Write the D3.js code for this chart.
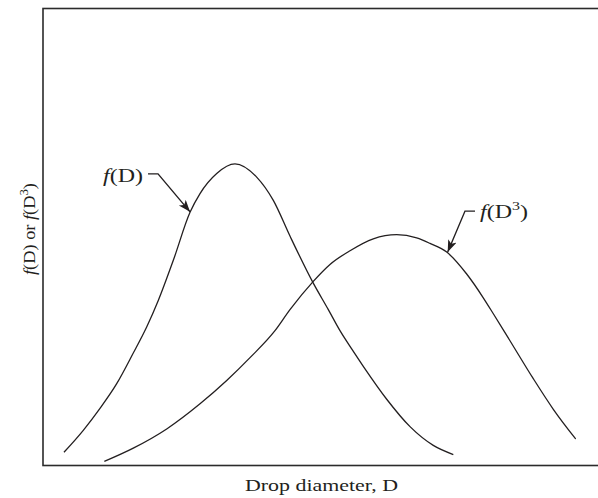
<!DOCTYPE html>
<html><head><meta charset="utf-8">
<script src="https://cdn.jsdelivr.net/npm/d3@7"></script>
<style>
html,body{margin:0;padding:0;background:#fff;}
svg{display:block;}
text{font-family:"Liberation Serif","Times New Roman",serif;fill:#231f20;}
</style>
</head><body><svg id="chart" width="598" height="498"></svg>
<script>
// Drop diameter (arbitrary units) and distribution values (normalised)
const dA = [0.378,0.726,1.027,1.328,1.622,1.868,2.077,2.348,2.649,2.829,3.130,3.459,3.850,4.150,4.450,4.870,5.141,5.351,5.562,5.771,6.193,6.613,7.032,7.393];
const fA = [0.029,0.077,0.125,0.179,0.245,0.303,0.361,0.449,0.554,0.595,0.639,0.660,0.631,0.580,0.502,0.399,0.341,0.295,0.255,0.217,0.145,0.085,0.044,0.024];
const dB = [1.105,1.627,2.229,2.829,3.310,3.730,4.180,4.450,4.870,5.171,5.532,5.951,6.373,6.733,6.973,7.274,7.634,7.933,8.114,8.414,8.834,9.195,9.598];
const fB = [0.009,0.038,0.080,0.135,0.186,0.236,0.295,0.341,0.403,0.440,0.470,0.496,0.505,0.498,0.486,0.467,0.419,0.367,0.332,0.273,0.190,0.123,0.058];
const xTitle = "Drop diameter, D";
// annotation anchors (on the curves)
const annA = {d: 2.649, f: 0.555};
const annB = {d: 7.292, f: 0.467};

const svg = d3.select("#chart");
const L = 43, R = 598, T = 8.5, B = 465.5;
const x = d3.scaleLinear().domain([0, 10]).range([L, R]);
const y = d3.scaleLinear().domain([0, 1]).range([B, T]);

// frame
svg.append("rect").attr("x", L).attr("y", T).attr("width", R - L + 5).attr("height", B - T)
  .attr("fill", "none").attr("stroke", "#2b2b2b").attr("stroke-width", 1.6);

const line = d3.line().x(d => x(d[0])).y(d => y(d[1])).curve(d3.curveMonotoneX);
const sA = dA.map((d, i) => [d, fA[i]]);
const sB = dB.map((d, i) => [d, fB[i]]);
[sA, sB].forEach(s => {
  svg.append("path").attr("d", line(s)).attr("fill", "none")
    .attr("stroke", "#231f20").attr("stroke-width", 1.3);
});

// arrow marker
svg.append("defs").append("marker").attr("id", "arr")
  .attr("markerUnits", "userSpaceOnUse").attr("markerWidth", 14).attr("markerHeight", 10)
  .attr("refX", 12).attr("refY", 4.5).attr("orient", "auto")
  .append("path").attr("d", "M0,0 L12,4.5 L0,9 L3,4.5 Z").attr("fill", "#231f20");

function leader(a, pts) {
  const tx = x(a.d), ty = y(a.f);
  const p = pts.map(q => [tx + q[0], ty + q[1]]);
  p.push([tx, ty]);
  svg.append("path").attr("d", d3.line()(p)).attr("fill", "none")
    .attr("stroke", "#231f20").attr("stroke-width", 1.4).attr("marker-end", "url(#arr)");
  return [tx, ty];
}
const [ax, ay] = leader(annA, [[-42, -38], [-32, -38]]);
const tA = svg.append("text").attr("x", ax - 87).attr("y", ay - 29.5)
  .attr("font-size", 19.5).attr("textLength", 40).attr("lengthAdjust", "spacingAndGlyphs");
tA.append("tspan").attr("font-style", "italic").text("f");
tA.append("tspan").text("(D)");

const [bx, by] = leader(annB, [[27.3, -41], [17.3, -41]]);
const tB = svg.append("text").attr("x", bx + 32.3).attr("y", by - 33.7).attr("font-size", 19.5)
  .attr("textLength", 48).attr("lengthAdjust", "spacingAndGlyphs");
tB.append("tspan").attr("font-style", "italic").text("f");
tB.append("tspan").text("(D");
tB.append("tspan").attr("font-size", 13).attr("dy", -8).text("3");
tB.append("tspan").attr("dy", 8).text(")");

// x axis title
svg.append("text").attr("x", 321.5).attr("y", 490.7).attr("text-anchor", "middle")
  .attr("font-size", 17).attr("textLength", 153).attr("lengthAdjust", "spacingAndGlyphs").text(xTitle);

// y axis title
const yt = svg.append("text").attr("transform", "translate(35,229) rotate(-90)")
  .attr("x", -46).attr("font-size", 17).attr("textLength", 92).attr("lengthAdjust", "spacingAndGlyphs");
yt.append("tspan").attr("font-style", "italic").text("f");
yt.append("tspan").text("(D) or ");
yt.append("tspan").attr("font-style", "italic").text("f");
yt.append("tspan").text("(D");
yt.append("tspan").attr("font-size", 12).attr("dy", -7).text("3");
yt.append("tspan").attr("dy", 7).text(")");
</script>
</body></html>
